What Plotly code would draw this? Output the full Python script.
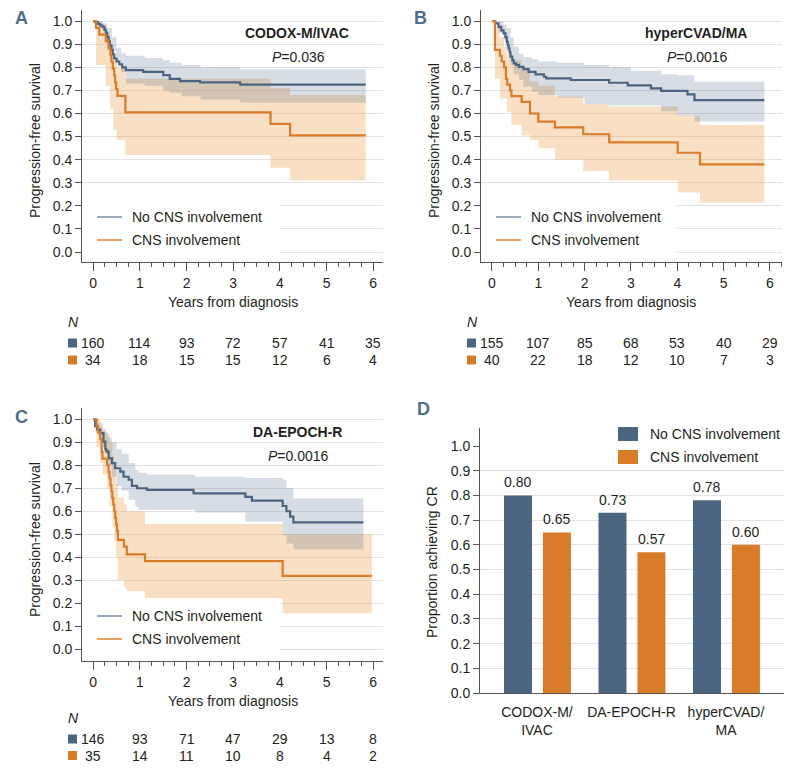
import plotly.graph_objects as go

# ---------------------------------------------------------------- data
# panel A: CODOX-M/IVAC
a_no_t = [0, 0.05, 0.1, 0.15, 0.2, 0.24, 0.27, 0.3, 0.33, 0.36, 0.39, 0.42, 0.45, 0.5,
          0.56, 0.62, 0.7, 1.07, 1.5, 1.64, 1.86, 2.29, 3.15, 5.84]
a_no_s = [1.0, 0.994, 0.988, 0.981, 0.975, 0.963, 0.95, 0.931, 0.912, 0.894, 0.875, 0.856,
          0.838, 0.825, 0.813, 0.80, 0.788, 0.78, 0.766, 0.75, 0.74, 0.735, 0.725, 0.725]
a_cns_t = [0, 0.06, 0.13, 0.27, 0.33, 0.37, 0.39, 0.42, 0.45, 0.47, 0.49, 0.52, 0.69, 3.8, 4.22, 5.84]
a_cns_s = [1.0, 0.971, 0.941, 0.912, 0.882, 0.853, 0.824, 0.794, 0.765, 0.735, 0.706, 0.676,
           0.605, 0.555, 0.505, 0.505]
a_no_ci_t = [0, 0.1, 0.2, 0.3, 0.4, 0.5, 0.6, 0.7, 1.1, 1.5, 1.64, 1.9, 2.3, 3.15, 5.84]
a_no_ci_hi = [1.0, 1.0, 0.99, 0.97, 0.93, 0.885, 0.86, 0.85, 0.84, 0.83, 0.82, 0.81, 0.80, 0.79, 0.79]
a_no_ci_lo = [1.0, 0.975, 0.955, 0.92, 0.87, 0.82, 0.78, 0.73, 0.72, 0.70, 0.69, 0.675, 0.66, 0.646, 0.646]
a_cns_ci_t = [0, 0.06, 0.14, 0.21, 0.27, 0.33, 0.36, 0.39, 0.43, 0.45, 0.5, 0.52, 0.69, 3.8, 4.22, 5.84]
a_cns_ci_hi = [1.0, 1.0, 0.99, 0.97, 0.95, 0.93, 0.92, 0.90, 0.87, 0.86, 0.82, 0.80, 0.75, 0.71, 0.68, 0.68]
a_cns_ci_lo = [1.0, 0.81, 0.81, 0.81, 0.72, 0.72, 0.62, 0.62, 0.53, 0.53, 0.485, 0.485, 0.42, 0.365, 0.31, 0.31]
a_risk_no = [160, 114, 93, 72, 57, 41, 35]
a_risk_cns = [34, 18, 15, 15, 12, 6, 4]

# panel B: hyperCVAD/MA
b_no_t = [0, 0.07, 0.14, 0.2, 0.25, 0.29, 0.32, 0.34, 0.36, 0.38, 0.4, 0.44, 0.47, 0.52, 0.58,
          0.68, 0.79, 0.94, 1.12, 1.17, 1.7, 2.53, 2.93, 3.43, 3.65, 4.22, 4.37, 5.88]
b_no_s = [1.0, 0.99, 0.975, 0.96, 0.947, 0.93, 0.91, 0.895, 0.882, 0.865, 0.846, 0.83, 0.817,
          0.81, 0.802, 0.792, 0.78, 0.769, 0.759, 0.752, 0.745, 0.733, 0.722, 0.709, 0.698,
          0.683, 0.658, 0.658]
b_cns_t = [0, 0.065, 0.17, 0.21, 0.26, 0.30, 0.33, 0.39, 0.42, 0.64, 0.82, 1.0, 1.36, 1.97,
           2.53, 4.01, 4.49, 5.88]
b_cns_s = [1.0, 0.875, 0.85, 0.825, 0.80, 0.75, 0.725, 0.70, 0.675, 0.65, 0.60, 0.565, 0.54,
           0.51, 0.475, 0.43, 0.38, 0.38]
b_no_ci_t = [0, 0.14, 0.25, 0.32, 0.4, 0.47, 0.58, 0.68, 0.86, 1.0, 1.4, 2.0, 2.53, 3.0, 3.65,
             4.0, 4.37, 5.88]
b_no_ci_hi = [1.0, 1.0, 0.985, 0.97, 0.93, 0.89, 0.86, 0.845, 0.835, 0.825, 0.82, 0.81, 0.80,
              0.785, 0.77, 0.765, 0.737, 0.737]
b_no_ci_lo = [1.0, 0.95, 0.915, 0.87, 0.81, 0.77, 0.745, 0.716, 0.694, 0.68, 0.668, 0.64,
              0.635, 0.635, 0.61, 0.59, 0.565, 0.565]
b_cns_ci_t = [0, 0.065, 0.17, 0.26, 0.32, 0.42, 0.64, 0.82, 1.0, 1.36, 1.97, 2.53, 3.65, 4.01,
              4.4, 4.49, 5.88]
b_cns_ci_hi = [1.0, 0.97, 0.93, 0.89, 0.86, 0.83, 0.79, 0.74, 0.72, 0.672, 0.64, 0.63, 0.63,
               0.59, 0.59, 0.55, 0.55]
b_cns_ci_lo = [1.0, 0.75, 0.665, 0.665, 0.607, 0.55, 0.506, 0.485, 0.45, 0.40, 0.35, 0.31,
               0.31, 0.258, 0.258, 0.215, 0.215]
b_risk_no = [155, 107, 85, 68, 53, 40, 29]
b_risk_cns = [40, 22, 18, 12, 10, 7, 3]

# panel C: DA-EPOCH-R
c_no_t = [0, 0.04, 0.08, 0.15, 0.22, 0.26, 0.28, 0.33, 0.40, 0.47, 0.58, 0.65, 0.76, 0.83,
          0.94, 1.15, 2.15, 3.26, 3.40, 4.06, 4.14, 4.22, 4.29, 5.79]
c_no_s = [1.0, 0.97, 0.955, 0.94, 0.903, 0.87, 0.86, 0.83, 0.809, 0.787, 0.772, 0.75, 0.737,
          0.71, 0.70, 0.693, 0.678, 0.663, 0.646, 0.623, 0.60, 0.577, 0.552, 0.552]
c_cns_t = [0, 0.07, 0.1, 0.15, 0.18, 0.2, 0.3, 0.33, 0.35, 0.37, 0.39, 0.41, 0.43, 0.45, 0.47,
           0.49, 0.51, 0.53, 0.66, 0.72, 1.11, 4.06, 5.97]
c_cns_s = [1.0, 0.971, 0.943, 0.914, 0.857, 0.829, 0.80, 0.771, 0.743, 0.714, 0.686, 0.657,
           0.629, 0.60, 0.571, 0.543, 0.514, 0.476, 0.446, 0.413, 0.383, 0.319, 0.319]
c_no_ci_t = [0, 0.04, 0.1, 0.2, 0.26, 0.33, 0.4, 0.5, 0.61, 0.76, 0.9, 0.97, 1.15, 2.19, 3.26,
             4.06, 4.14, 4.29, 5.79]
c_no_ci_hi = [1.0, 1.0, 0.985, 0.96, 0.94, 0.92, 0.90, 0.87, 0.85, 0.81, 0.78, 0.767, 0.759,
              0.75, 0.745, 0.737, 0.70, 0.656, 0.656]
c_no_ci_lo = [1.0, 0.97, 0.93, 0.88, 0.85, 0.80, 0.75, 0.71, 0.69, 0.65, 0.62, 0.607, 0.607,
              0.595, 0.555, 0.497, 0.46, 0.435, 0.435]
c_cns_ci_t = [0, 0.07, 0.15, 0.2, 0.3, 0.35, 0.41, 0.45, 0.49, 0.53, 0.66, 0.72, 1.11, 4.06, 5.97]
c_cns_ci_hi = [1.0, 1.0, 0.97, 0.95, 0.93, 0.90, 0.84, 0.78, 0.72, 0.66, 0.63, 0.60, 0.545,
               0.50, 0.50]
c_cns_ci_lo = [1.0, 0.88, 0.81, 0.76, 0.70, 0.62, 0.53, 0.47, 0.40, 0.30, 0.27, 0.252, 0.223,
               0.157, 0.157]
c_risk_no = [146, 93, 71, 47, 29, 13, 8]
c_risk_cns = [35, 14, 11, 10, 8, 4, 2]

years = [0, 1, 2, 3, 4, 5, 6]

# panel D: complete response
regimens = ["CODOX-M/<br>IVAC", "DA-EPOCH-R", "hyperCVAD/<br>MA"]
cr_no_cns = [0.80, 0.73, 0.78]
cr_cns = [0.65, 0.57, 0.60]

# ---------------------------------------------------------------- style
PAGE_W, PAGE_H = 792, 771
BODY = 8                       # default page margin around the plot div
W, H = PAGE_W - 2 * BODY, PAGE_H - 2 * BODY
FONT = "Liberation Sans, Arial, sans-serif"
FS = 14
TXT = "#231f20"
AXC = "#555555"
GRID = "#e3e3e3"
BLUE = "#4b6480"
ORANGE = "#d97c2a"
BLUE_BAND = "rgba(74,99,130,0.22)"
ORANGE_BAND = "rgba(238,160,80,0.33)"
LETTER = "#4f6d8c"


# page pixel -> paper fraction
def px(x):
    return (x - BODY) / W


def py(y):
    return 1 - (y - BODY) / H


annotations = []
shapes = []


def note(x, y, text, xref="paper", yref="paper", size=FS, **kw):
    if xref == "paper":
        x = px(x)
    if yref == "paper":
        y = py(y)
    d = dict(x=x, y=y, xref=xref, yref=yref, text=text, showarrow=False,
             xanchor="center", yanchor="middle",
             font=dict(family=FONT, size=size, color=kw.pop("color", TXT)))
    d.update(kw)
    annotations.append(d)


fig = go.Figure()

# ---------------------------------------------------------------- KM panels
panels = [
    dict(s="", letter="A", title="CODOX-M/IVAC", p="0.036",
         no=(a_no_t, a_no_s), cns=(a_cns_t, a_cns_s),
         no_ci=(a_no_ci_t, a_no_ci_lo, a_no_ci_hi), cns_ci=(a_cns_ci_t, a_cns_ci_lo, a_cns_ci_hi),
         risk=(a_risk_no, a_risk_cns), rows=(343, 360),
         xd=(82, 383), yd=(10, 262), xr=[-0.24, 6.21], yr=[-0.043, 1.048],
         x0=0, y0=0),
    dict(s="2", letter="B", title="hyperCVAD/MA", p="0.0016",
         no=(b_no_t, b_no_s), cns=(b_cns_t, b_cns_s),
         no_ci=(b_no_ci_t, b_no_ci_lo, b_no_ci_hi), cns_ci=(b_cns_ci_t, b_cns_ci_lo, b_cns_ci_hi),
         risk=(b_risk_no, b_risk_cns), rows=(343, 360),
         xd=(481, 782), yd=(10, 262), xr=[-0.237, 6.26], yr=[-0.043, 1.048],
         x0=399, y0=0),
    dict(s="3", letter="C", title="DA-EPOCH-R", p="0.0016",
         no=(c_no_t, c_no_s), cns=(c_cns_t, c_cns_s),
         no_ci=(c_no_ci_t, c_no_ci_lo, c_no_ci_hi), cns_ci=(c_cns_ci_t, c_cns_ci_lo, c_cns_ci_hi),
         risk=(c_risk_no, c_risk_cns), rows=(739, 755.5),
         xd=(82, 383), yd=(408, 661), xr=[-0.24, 6.21], yr=[-0.051, 1.049],
         x0=0, y0=399),
]

for p in panels:
    xa, ya = "x" + p["s"], "y" + p["s"]
    for (t, lo, hi), fc in ((p["cns_ci"], ORANGE_BAND), (p["no_ci"], BLUE_BAND)):
        fig.add_trace(go.Scatter(x=t, y=hi, mode="lines", line=dict(width=0, shape="hv"),
                                 xaxis=xa, yaxis=ya, showlegend=False, hoverinfo="skip"))
        fig.add_trace(go.Scatter(x=t, y=lo, mode="lines", line=dict(width=0, shape="hv"),
                                 fill="tonexty", fillcolor=fc,
                                 xaxis=xa, yaxis=ya, showlegend=False, hoverinfo="skip"))
    for (t, s), col in ((p["no"], BLUE), (p["cns"], ORANGE)):
        fig.add_trace(go.Scatter(x=t, y=s, mode="lines", line=dict(color=col, width=2.2, shape="hv"),
                                 xaxis=xa, yaxis=ya, showlegend=False))

    x0, y0 = p["x0"], p["y0"]
    top, bot = p["yd"]
    axis_x = dict(domain=[px(p["xd"][0]), px(p["xd"][1])], range=p["xr"], anchor=ya,
                  automargin=False, showgrid=False, zeroline=False, showline=True,
                  linecolor=AXC, linewidth=1,
                  ticks="outside", ticklen=8, tickcolor=AXC, tickvals=years,
                  minor=dict(dtick=0.25, tick0=0, ticks="outside", ticklen=4, tickcolor=AXC,
                             showgrid=False),
                  tickfont=dict(family=FONT, size=FS, color=TXT))
    axis_y = dict(domain=[py(bot), py(top)], range=p["yr"], anchor=xa,
                  automargin=False, showgrid=True, gridcolor=GRID, gridwidth=1, zeroline=False,
                  showline=True, linecolor=AXC, linewidth=1, ticks="outside", ticklen=6,
                  tickcolor=AXC, dtick=0.1, tick0=0, tickformat=".1f",
                  tickfont=dict(family=FONT, size=FS, color=TXT))
    fig.layout["xaxis" + p["s"]] = axis_x
    fig.layout["yaxis" + p["s"]] = axis_y

    # white box behind the legend hides the gridlines
    shapes.append(dict(type="rect", xref=xa, yref=ya, x0=p["xr"][0], x1=4.0,
                       y0=p["yr"][0], y1=0.25, fillcolor="white", line_width=0,
                       layer="between"))

    note(x0 + 21, y0 + 18, "<b>%s</b>" % p["letter"], size=18, color=LETTER)
    note(x0 + 297, y0 + 33, "<b>%s</b>" % p["title"])
    note(x0 + 298, y0 + 57, "<i>P</i>=" + p["p"])
    note(x0 + 35, y0 + 141, "Progression-free survival", textangle=-90)
    note(3, y0 + 302, "Years from diagnosis", xref=xa)

    # legend
    for k, (lab, col) in enumerate((("No CNS involvement", "#8196ab"),
                                    ("CNS involvement", "#e58b3c"))):
        yy = y0 + 217 + 23 * k
        shapes.append(dict(type="line", xref="paper", yref="paper",
                           x0=px(x0 + 97), x1=px(x0 + 122), y0=py(yy), y1=py(yy),
                           line=dict(color=col, width=1.6)))
        note(x0 + 130, yy, lab, xanchor="left")

    # numbers at risk
    note(x0 + 73, p["rows"][0] - 21, "<i>N</i>")
    for row, col, yy in zip(p["risk"], (BLUE, ORANGE), p["rows"]):
        shapes.append(dict(type="rect", xref="paper", yref="paper",
                           x0=px(x0 + 68), x1=px(x0 + 77), y0=py(yy - 4.5), y1=py(yy + 4.5),
                           fillcolor=col, line_width=0))
        for yr, n in zip(years, row):
            note(yr, yy, str(n), xref=xa)

# ---------------------------------------------------------------- panel D
bar_w = 0.296
for vals, col, off, name in ((cr_no_cns, BLUE, -0.349, "No CNS involvement"),
                             (cr_cns, ORANGE, 0.063, "CNS involvement")):
    fig.add_trace(go.Bar(x=regimens, y=vals, width=bar_w, offset=off,
                         marker=dict(color=col, line_width=0), name=name,
                         xaxis="x4", yaxis="y4", showlegend=False))
    for i, v in enumerate(vals):
        note(i + off + bar_w / 2, v, "%.2f" % v, xref="x4", yref="y4",
             yanchor="bottom", yshift=3)

fig.layout.xaxis4 = dict(domain=[px(480), px(784)], range=[-0.603, 2.614], anchor="y4",
                         type="category", automargin=False, showgrid=False, zeroline=False,
                         showline=True, linecolor=AXC, linewidth=1, ticks="", tickangle=0,
                         ticklabelstandoff=6,
                         tickfont=dict(family=FONT, size=FS, color=TXT))
fig.layout.yaxis4 = dict(domain=[py(693), py(428)], range=[0, 1.073], anchor="x4",
                         automargin=False, showgrid=True, gridcolor=GRID, zeroline=False,
                         showline=True, linecolor=AXC, linewidth=1, ticks="outside", ticklen=6,
                         tickcolor=AXC, dtick=0.1, tick0=0, tickformat=".1f",
                         tickfont=dict(family=FONT, size=FS, color=TXT))
shapes.append(dict(type="rect", xref="x4", yref="y4", x0=-0.6, x1=2.614, y0=0.95, y1=1.073,
                   fillcolor="white", line_width=0, layer="between"))

note(423, 409, "<b>D</b>", size=18, color=LETTER)
note(432, 562, "Proportion achieving CR", textangle=-90)
for k, (lab, col) in enumerate((("No CNS involvement", BLUE), ("CNS involvement", ORANGE))):
    yy = 434 + 23 * k
    shapes.append(dict(type="rect", xref="paper", yref="paper",
                       x0=px(618), x1=px(638), y0=py(yy + 7), y1=py(yy - 7),
                       fillcolor=col, line_width=0))
    note(648, yy, lab, xanchor="left")

fig.update_layout(
    width=W, height=H,
    margin=dict(l=0, r=0, t=0, b=0, pad=0),
    paper_bgcolor="white", plot_bgcolor="white",
    font=dict(family=FONT, size=FS, color=TXT),
    showlegend=False,
    annotations=annotations,
    shapes=shapes,
)

fig.write_html("out.html")
